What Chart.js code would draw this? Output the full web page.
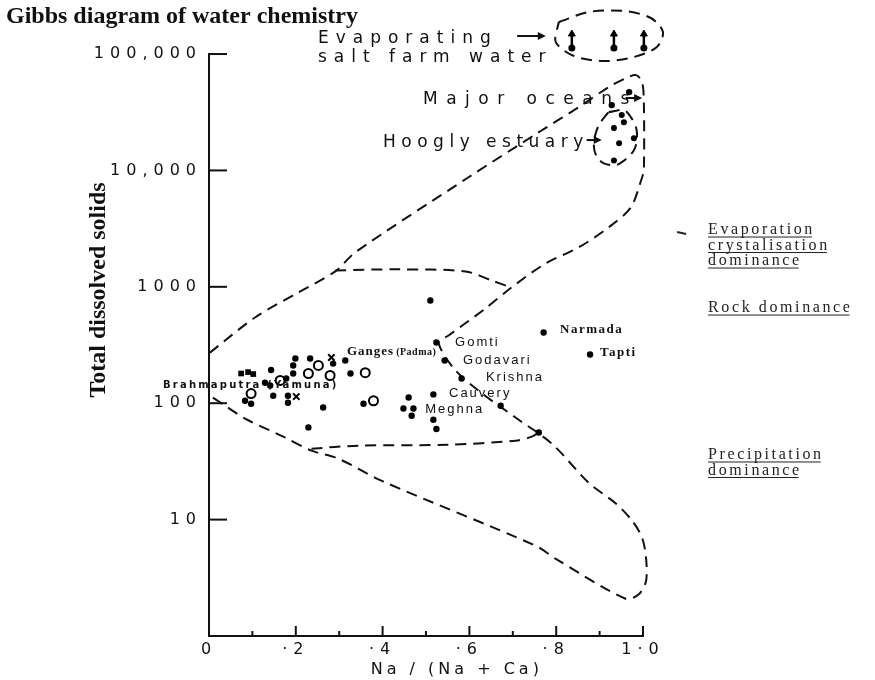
<!DOCTYPE html>
<html>
<head>
<meta charset="utf-8">
<title>Gibbs diagram of water chemistry</title>
<script src="https://cdn.jsdelivr.net/npm/chart.js@4.4.1/dist/chart.umd.min.js"></script>
<style>
  html, body { margin: 0; padding: 0; background: #fff; }
</style>
</head>
<body>
<canvas id="gibbsChart" width="875" height="680"></canvas>
<script>
// x = Na/(Na+Ca), y = total dissolved solids (log scale)
const yTicks = [10, 100, 1000, 10000, 100000];
const yTickLabels = ["10", "100", "1000", "10,000", "100,000"];
const xTickLabels = { 0: "0", 2: "·2", 4: "·4", 6: "·6", 8: "·8", 10: "1·0" };

// river samples
const riverPoints = [
  [0.199, 242], [0.233, 242], [0.314, 233], [0.286, 219], [0.194, 211],
  [0.143, 193], [0.194, 180], [0.326, 180], [0.178, 163], [0.129, 150],
  [0.141, 142], [0.083, 105], [0.097, 99], [0.148, 116], [0.182, 116],
  [0.182, 101], [0.263, 92], [0.356, 99], [0.229, 62], [0.460, 112],
  [0.448, 90], [0.471, 90], [0.467, 78], [0.517, 72], [0.524, 60],
  [0.510, 764], [0.524, 332], [0.543, 233], [0.582, 163], [0.517, 119],
  [0.672, 95], [0.760, 56], [0.771, 405], [0.878, 262]
];
const squarePoints = [[0.074, 180], [0.090, 185], [0.102, 178]];
const openPoints = [
  [0.252, 211], [0.229, 180], [0.279, 173], [0.360, 183],
  [0.164, 157], [0.097, 121], [0.379, 105]
];
const crossPoints = [[0.201, 114], [0.282, 247]];

// sea water and estuary
const oceanPoints = [[0.968, 47100], [0.928, 36400]];
const hooglyPoints = [
  [0.951, 29900], [0.956, 26000], [0.933, 23100],
  [0.979, 18900], [0.945, 17100], [0.933, 12200]
];
const saltFarmPoints = [[0.836, 112700], [0.933, 112700], [1.002, 112700]];
const saltFarmArrowTop = 148600;

// dashed boundaries
const outerEnvelope = [
  [0.002, 272], [0.106, 545], [0.206, 895], [0.291, 1357], [0.337, 1977],
  [0.598, 8735], [0.760, 21300], [0.852, 35000], [0.921, 52000], [0.961, 62100],
  [0.984, 65900], [0.998, 57400], [1.002, 37900], [1.002, 10040], [0.998, 8735],
  [0.972, 4820], [0.921, 3245], [0.852, 2183], [0.776, 1590], [0.697, 988],
  [0.637, 652], [0.552, 382], [0.529, 332], [0.564, 199], [0.621, 128],
  [0.707, 75], [0.790, 44.9], [0.875, 20.7], [0.938, 13.7], [0.975, 9.77],
  [0.998, 6.97], [1.007, 4.69], [1.007, 2.97], [0.991, 2.30], [0.961, 2.08],
  [0.799, 4.60], [0.753, 5.95], [0.397, 21.6], [0.298, 33.4], [0.236, 39.1],
  [0.176, 50.6], [0.083, 73.7], [0.044, 91.6], [0.002, 116]
];
const rockTop = [[0.291, 1384], [0.436, 1413], [0.591, 1357], [0.651, 1135], [0.695, 988]];
const rockBottom = [[0.236, 40.7], [0.344, 43.2], [0.552, 44], [0.707, 47.7], [0.744, 51.6], [0.760, 56]];
const saltFarmLoop = [
  [0.806, 188400], [0.875, 229800], [0.956, 234400], [1.018, 204000], [1.046, 154600],
  [1.032, 114900], [0.979, 94300], [0.910, 87000], [0.841, 96100], [0.799, 126800],
  [0.806, 188400]
];
const hooglyLoop = [
  [0.921, 31700], [0.956, 33000], [0.972, 28700], [0.984, 23500], [0.986, 18200],
  [0.979, 14900], [0.963, 12700], [0.938, 11100], [0.910, 11500], [0.894, 13000],
  [0.887, 15800], [0.891, 20900], [0.901, 25500], [0.915, 29900], [0.921, 31700]
];

// labels
const riverLabels = ["Gomti", "Godavari", "Krishna", "Cauvery", "Meghna", "Narmada", "Tapti"];
const riverLabelAt = [
  [0.567, 336], [0.585, 231], [0.638, 168], [0.553, 122], [0.498, 89], [0.809, 426], [0.901, 270]
];
const groupLabels = [["Evaporating", "salt farm water"], ["Major oceans"], ["Hoogly estuary"]];
const groupLabelAt = [[0.251, 134500], [0.493, 40270], [0.401, 17180]];
const groupArrows = [[0.710, 0.776, 142800], [0.960, 0.998, 41900], [0.870, 0.905, 18240]];
const sideNotes = [["Evaporation", "crystalisation", "dominance"], ["Rock dominance"], ["Precipitation", "dominance"]];
const sideNoteAt = [3076, 657, 35.9];

const pts = (arr) => arr.map(([x, y]) => ({ x, y }));

function dashed(data) {
  return {
    data: pts(data),
    showLine: true,
    borderColor: "#111",
    borderWidth: 2,
    borderDash: [11, 7],
    pointRadius: 0,
    tension: 0.3,
    fill: false,
    clip: false,
  };
}

function putText(ctx, str, px, py, font, spacing, align) {
  ctx.font = font;
  ctx.letterSpacing = spacing + "px";
  ctx.textAlign = align || "left";
  ctx.textBaseline = "middle";
  ctx.fillText(str, px, py);
  return ctx.measureText(str).width;
}

function arrow(ctx, x1, x2, py) {
  ctx.beginPath();
  ctx.moveTo(x1, py);
  ctx.lineTo(x2 - 6, py);
  ctx.stroke();
  ctx.beginPath();
  ctx.moveTo(x2, py);
  ctx.lineTo(x2 - 8, py - 4);
  ctx.lineTo(x2 - 8, py + 4);
  ctx.closePath();
  ctx.fill();
}

const notesPlugin = {
  id: "gibbsNotes",
  beforeDraw(chart) {
    chart.ctx.letterSpacing = "0px";
  },
  afterDatasetsDraw(chart) {
    // tick labels are drawn after the datasets (ticks.z: 1) with wide spacing
    chart.ctx.letterSpacing = "6px";
  },
  afterDraw(chart) {
    const { ctx, chartArea: area, scales: { x, y } } = chart;
    ctx.save();
    ctx.letterSpacing = "0px";
    ctx.fillStyle = "#111";
    ctx.strokeStyle = "#111";
    ctx.lineWidth = 2;

    // y axis stops at 100,000; the space above holds the salt farm samples
    ctx.beginPath();
    ctx.moveTo(area.left, y.getPixelForValue(1) + 1);
    ctx.lineTo(area.left, y.getPixelForValue(100000) - 1);
    ctx.stroke();

    // tick marks point into the plot
    x.ticks.forEach((t) => {
      const step = Math.round(t.value * 10);
      if (step === 0) return;
      const px = x.getPixelForValue(t.value);
      const len = step % 2 === 0 ? 10 : 5;
      ctx.beginPath();
      ctx.moveTo(px, area.bottom);
      ctx.lineTo(px, area.bottom - len);
      ctx.stroke();
    });
    yTicks.forEach((v) => {
      const py = y.getPixelForValue(v);
      ctx.beginPath();
      ctx.moveTo(area.left, py);
      ctx.lineTo(area.left + 18, py);
      ctx.stroke();
    });

    // axis titles
    putText(ctx, "Na / (Na + Ca)", x.getPixelForValue(0.571), area.bottom + 34,
      "16px 'DejaVu Sans'", 4, "center");
    ctx.save();
    ctx.translate(area.left - 110, y.getPixelForValue(940));
    ctx.rotate(-Math.PI / 2);
    putText(ctx, "Total dissolved solids", 0, 0, "bold 24px 'Liberation Serif'", 0, "center");
    ctx.restore();

    // group labels and their arrows
    const groupSpacing = [7, 8.5, 5.5];
    groupLabels.forEach((lines, i) => {
      const [gx, gy] = groupLabelAt[i];
      lines.forEach((line, j) => {
        putText(ctx, line, x.getPixelForValue(gx), y.getPixelForValue(gy) + j * 19,
          "17px 'DejaVu Sans'", groupSpacing[i]);
      });
    });
    ctx.lineWidth = 2;
    groupArrows.forEach(([x1, x2, ay]) => {
      arrow(ctx, x.getPixelForValue(x1), x.getPixelForValue(x2), y.getPixelForValue(ay));
    });

    // river names
    riverLabels.forEach((name, i) => {
      const [lx, ly] = riverLabelAt[i];
      const serif = name === "Narmada" || name === "Tapti";
      putText(ctx, name, x.getPixelForValue(lx), y.getPixelForValue(ly),
        serif ? "bold 13px 'Liberation Serif'" : "13px 'Liberation Sans'", serif ? 1.5 : 2);
    });
    const gx = x.getPixelForValue(0.318), gy = y.getPixelForValue(275);
    const w = putText(ctx, "Ganges", gx, gy, "bold 13px 'Liberation Serif'", 1);
    putText(ctx, "(Padma)", gx + w + 2, gy, "bold 10px 'Liberation Serif'", 0.5);
    putText(ctx, "Brahmaputra (Yamuna)", x.getPixelForValue(-0.106), y.getPixelForValue(143),
      "bold 10px 'DejaVu Sans'", 2.2);

    // process notes on the right, underlined
    ctx.fillStyle = "#222";
    ctx.strokeStyle = "#222";
    ctx.lineWidth = 1;
    const nx = x.getPixelForValue(1.15);
    sideNotes.forEach((lines, i) => {
      const top = y.getPixelForValue(sideNoteAt[i]);
      lines.forEach((line, j) => {
        const py = top + j * 15.5;
        const tw = putText(ctx, line, nx, py, "16px 'Liberation Serif'", 2.6);
        ctx.beginPath();
        ctx.moveTo(nx, py + 7);
        ctx.lineTo(nx + tw - 3, py + 7);
        ctx.stroke();
      });
    });
    ctx.lineWidth = 2;
    const my = y.getPixelForValue(sideNoteAt[0]) + 3;
    ctx.beginPath();
    ctx.moveTo(nx - 31, my - 1);
    ctx.lineTo(nx - 22, my + 1);
    ctx.stroke();

    ctx.restore();
  },
};

const ctx = document.getElementById("gibbsChart").getContext("2d");
new Chart(ctx, {
  type: "scatter",
  data: {
    datasets: [
      { data: pts(riverPoints), pointStyle: "circle", pointRadius: 3.2, backgroundColor: "#000", borderWidth: 0 },
      { data: pts(squarePoints), pointStyle: "rect", pointRadius: 4, backgroundColor: "#000", borderWidth: 0 },
      { data: pts(openPoints), pointStyle: "circle", pointRadius: 4.5, backgroundColor: "#fff", borderColor: "#000", borderWidth: 2 },
      { data: pts(crossPoints), pointStyle: "crossRot", pointRadius: 4.5, borderColor: "#000", borderWidth: 2 },
      { data: pts(oceanPoints), pointStyle: "circle", pointRadius: 3.2, backgroundColor: "#000", borderWidth: 0, clip: false },
      { data: pts(hooglyPoints), pointStyle: "circle", pointRadius: 3, backgroundColor: "#000", borderWidth: 0, clip: false },
      { data: pts(saltFarmPoints), pointStyle: "circle", pointRadius: 3.5, backgroundColor: "#000", borderWidth: 0, clip: false },
      {
        // arrows rising from the salt farm samples
        data: saltFarmPoints.map(([sx]) => ({ x: sx, y: saltFarmArrowTop })),
        pointStyle: "triangle", pointRadius: 4, backgroundColor: "#000", borderColor: "#000", borderWidth: 1, clip: false,
      },
      {
        data: saltFarmPoints.map(([sx, sy]) => ({ x: sx, y: Math.sqrt(sy * saltFarmArrowTop) })),
        pointStyle: "line", rotation: 90, pointRadius: 8, borderColor: "#000", borderWidth: 2.5, clip: false,
      },
      dashed(outerEnvelope),
      dashed(rockTop),
      dashed(rockBottom),
      dashed(saltFarmLoop),
      dashed(hooglyLoop),
    ],
  },
  options: {
    responsive: false,
    animation: false,
    layout: { padding: { left: 6, right: 232, top: 2, bottom: 0 } },
    plugins: {
      legend: { display: false },
      tooltip: { enabled: false },
      title: {
        display: true,
        text: "Gibbs diagram of water chemistry",
        align: "start",
        color: "#111",
        font: { family: "'Liberation Serif'", size: 24, weight: "bold" },
        // the plot area runs up under the title to hold the salt farm samples
        padding: { top: 0, bottom: -11.8 },
      },
    },
    scales: {
      x: {
        type: "linear",
        min: 0,
        max: 1,
        grid: { display: true, drawOnChartArea: false, drawTicks: false },
        border: { display: true, color: "#111", width: 2 },
        ticks: {
          z: 1,
          stepSize: 0.1,
          autoSkip: false,
          maxRotation: 0,
          padding: 4,
          color: "#111",
          font: { family: "'DejaVu Sans'", size: 16 },
          callback: (v) => xTickLabels[Math.round(v * 10)] ?? "",
        },
        afterFit: (scale) => { scale.height = 44; },
      },
      y: {
        type: "logarithmic",
        min: 1,
        max: 200000,
        grid: { display: true, drawOnChartArea: false, drawTicks: false },
        border: { display: false },
        afterBuildTicks: (scale) => { scale.ticks = yTicks.map((v) => ({ value: v })); },
        ticks: {
          z: 1,
          padding: 7,
          color: "#111",
          font: { family: "'DejaVu Sans'", size: 16 },
          callback: (v) => yTickLabels[yTicks.indexOf(v)] ?? "",
        },
        afterFit: (scale) => { scale.width = 203; },
      },
    },
  },
  plugins: [notesPlugin],
});
</script>
</body>
</html>
